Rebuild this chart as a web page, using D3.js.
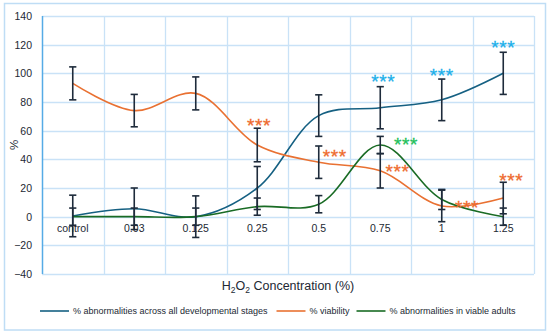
<!DOCTYPE html>
<html>
<head>
<meta charset="utf-8">
<script src="https://cdn.jsdelivr.net/npm/d3@7"></script>
<style>
  html, body { margin: 0; padding: 0; background: #ffffff; }
  svg { display: block; }
  text { font-family: "Liberation Sans", Arial, sans-serif; }
</style>
</head>
<body>
<svg id="chart" width="550" height="335"></svg>
<script>
// ---------------- data ----------------
const categories = ["control", "0.03", "0.125", "0.25", "0.5", "0.75", "1", "1.25"];
const yTicks = [-40, -20, 0, 20, 40, 60, 80, 100, 120, 140];

const seriesNames = [
  "% abnormalities across all developmental stages",
  "% viability",
  "% abnormalities in viable adults"
];
const abnormAll      = [0.5, 5.5, 0, 20, 70.5, 76, 81.5, 100];
const abnormAllErr   = [14.5, 14.5, 14.5, 15, 14.5, 14.7, 14.5, 14.7];
const viability      = [93, 74, 86, 50, 38, 32, 7.5, 13];
const viabilityErr   = [11.5, 11.3, 11.5, 11.7, 11.3, 12, 11, 11];
const abnormAdults   = [0, 0, 0, 7, 8.7, 50, 12, 0];
const abnormAdultsErr= [6, 6, 6, 6, 6, 6, 7, 6];

// significance markers: series index, category, value level (data units), shift in band fractions
const starSeries = [1, 1, 1, 1, 1, 2, 0, 0, 0];
const starCats   = ["0.25", "0.5", "0.75", "1", "1.25", "0.75", "0.75", "1", "1.25"];
const starLevels = [66.8, 45.2, 34.7, 9.6, 28.4, 53.5, 97.5, 101.7, 121.2];
const starShift  = [0.03, 0.26, 0.28, 0.41, 0.13, 0.42, 0.05, 0.0, 0.0];

// ---------------- styles ----------------
const lineColors = ["#156082", "#E97132", "#196B24"];
const starColors = ["#1AAFEA", "#EE6A2C", "#1FBF5A"];
const gridColor = "#C9E2F7";
const textColor = "#222833";
const barColor = "#1E2B3B";

const svg = d3.select("#chart");
const plot = { left: 42, right: 534, top: 16, bottom: 274 };

// outer border
svg.append("rect")
  .attr("x", 4.5).attr("y", 3.5)
  .attr("width", 541).attr("height", 326.5)
  .attr("fill", "#fff")
  .attr("stroke", "#BFDDF5").attr("stroke-width", 1.5);

const x = d3.scaleBand().domain(categories).range([plot.left, plot.right]).paddingInner(0).paddingOuter(0);
const y = d3.scaleLinear().domain([-40, 140]).range([plot.bottom, plot.top]);
const cx = c => x(c) + x.bandwidth() / 2;

// horizontal gridlines
svg.append("g").selectAll("line").data(yTicks).join("line")
  .attr("x1", plot.left).attr("x2", plot.right)
  .attr("y1", d => Math.round(y(d)) + 0.5).attr("y2", d => Math.round(y(d)) + 0.5)
  .attr("stroke", gridColor).attr("stroke-width", 1.3);

// vertical gridlines at band edges
const edges = categories.map(c => x(c)).concat([plot.right]);
svg.append("g").selectAll("line").data(edges.slice(1)).join("line")
  .attr("x1", d => Math.round(d) + 0.5).attr("x2", d => Math.round(d) + 0.5)
  .attr("y1", plot.top).attr("y2", plot.bottom)
  .attr("stroke", gridColor).attr("stroke-width", 1.3);

// left axis line
svg.append("line")
  .attr("x1", plot.left + 0.5).attr("x2", plot.left + 0.5)
  .attr("y1", plot.top).attr("y2", plot.bottom)
  .attr("stroke", "#56ABE6").attr("stroke-width", 1.5);

// y-axis tick labels via d3 axis
const yAxis = d3.axisLeft(y).tickValues(yTicks).tickSize(0).tickPadding(10);
const yg = svg.append("g").attr("transform", `translate(${plot.left},0)`).call(yAxis);
yg.select(".domain").remove();
yg.selectAll("text").attr("fill", textColor).attr("font-size", 10.5)
  .attr("font-family", "Liberation Sans, Arial, sans-serif");

// x category labels (placed just below zero line, inside plot)
const xAxis = d3.axisBottom(x).tickSize(0).tickPadding(0);
const xg = svg.append("g").attr("transform", `translate(0,${y(0)})`).call(xAxis);
xg.select(".domain").remove();
xg.selectAll("text").attr("fill", textColor).attr("font-size", 10.5)
  .attr("font-family", "Liberation Sans, Arial, sans-serif")
  .attr("dy", "1.45em");

// series lines
const seriesVals = [abnormAll, viability, abnormAdults];
const seriesErr = [abnormAllErr, viabilityErr, abnormAdultsErr];
const line = d3.line().x(d => cx(d.c)).y(d => y(d.v)).curve(d3.curveCatmullRom.alpha(0.5));

seriesVals.forEach((vals, i) => {
  const pts = categories.map((c, j) => ({ c, v: vals[j] }));
  svg.append("path").datum(pts)
    .attr("d", line)
    .attr("fill", "none")
    .attr("stroke", lineColors[i])
    .attr("stroke-width", 1.6);
});

// error bars
const cap = 3.6;
seriesVals.forEach((vals, i) => {
  const g = svg.append("g").attr("stroke", barColor).attr("stroke-width", 1.6).attr("fill", "none");
  categories.forEach((c, j) => {
    const xc = cx(c);
    const hi = y(vals[j] + seriesErr[i][j]);
    const lo = y(vals[j] - seriesErr[i][j]);
    g.append("line").attr("x1", xc).attr("x2", xc).attr("y1", hi).attr("y2", lo);
    g.append("line").attr("x1", xc - cap).attr("x2", xc + cap).attr("y1", hi).attr("y2", hi);
    g.append("line").attr("x1", xc - cap).attr("x2", xc + cap).attr("y1", lo).attr("y2", lo);
  });
});

// significance stars
starSeries.forEach((s, k) => {
  svg.append("text")
    .attr("x", cx(starCats[k]) + starShift[k] * x.bandwidth())
    .attr("y", y(starLevels[k]) + 11)
    .attr("text-anchor", "middle")
    .attr("font-size", 19)
    .attr("letter-spacing", 0.6)
    .attr("fill", starColors[s])
    .attr("stroke", starColors[s])
    .attr("stroke-width", 0.3)
    .text("***");
});

// y title
svg.append("text")
  .attr("transform", `translate(18,${(plot.top + plot.bottom) / 2}) rotate(-90)`)
  .attr("text-anchor", "middle")
  .attr("font-size", 11.5)
  .attr("fill", textColor)
  .text("%");

// x title
const xt = svg.append("text")
  .attr("x", (plot.left + plot.right) / 2)
  .attr("y", 290)
  .attr("text-anchor", "middle")
  .attr("font-size", 12.5)
  .attr("fill", textColor);
xt.append("tspan").text("H");
xt.append("tspan").attr("font-size", 8.5).attr("dy", 3).text("2");
xt.append("tspan").attr("dy", -3).text("O");
xt.append("tspan").attr("font-size", 8.5).attr("dy", 3).text("2");
xt.append("tspan").attr("dy", -3).text(" Concentration (%)");

// legend
const legendX = [40, 276.5, 356.5];
const legend = svg.append("g");
seriesNames.forEach((name, i) => {
  const lx = legendX[i];
  legend.append("line")
    .attr("x1", lx).attr("x2", lx + 29)
    .attr("y1", 311).attr("y2", 311)
    .attr("stroke", lineColors[i]).attr("stroke-width", 1.6);
  legend.append("text")
    .attr("x", lx + 33).attr("y", 314)
    .attr("font-size", 9)
    .attr("fill", textColor)
    .text(name);
});
</script>
</body>
</html>
